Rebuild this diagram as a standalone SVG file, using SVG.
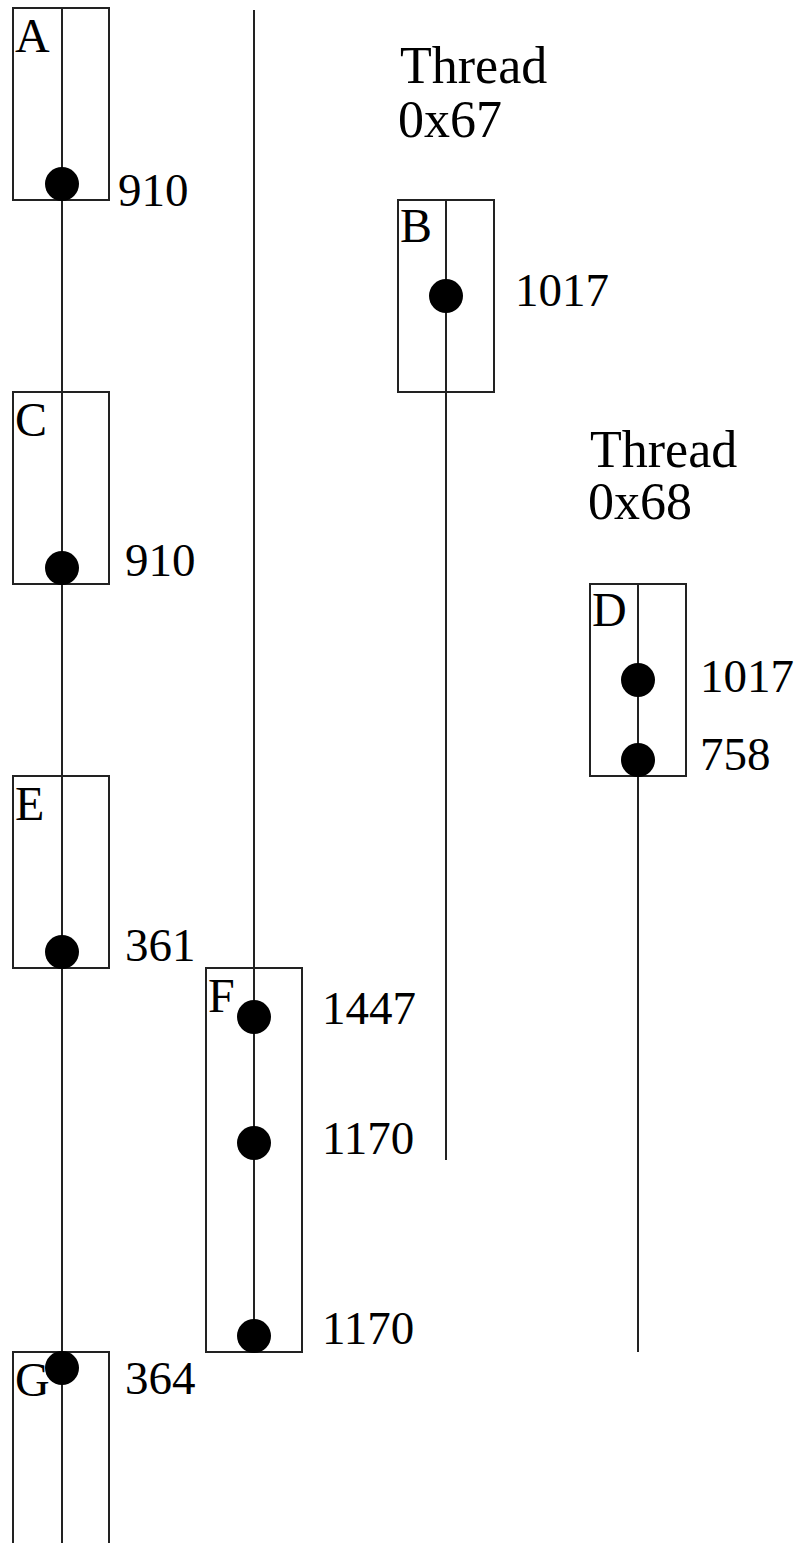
<svg xmlns="http://www.w3.org/2000/svg" width="799" height="1543" viewBox="0 0 799 1543">
<style>
.box{fill:none;stroke:#222;stroke-width:2}
.ln{stroke:#222;stroke-width:2;fill:none}
.dot{fill:#000}
.lbl{font-family:"Liberation Serif",serif;font-size:48px;fill:#000}
.num{font-family:"Liberation Serif",serif;font-size:47px;fill:#000}
.thr{font-family:"Liberation Serif",serif;font-size:52px;fill:#000}
</style>
<rect width="799" height="1543" fill="#fff"/>
<g id="connectors">
<line class="ln" x1="62" y1="8" x2="62" y2="1543"/>
<line class="ln" x1="254" y1="10" x2="254" y2="1352"/>
<line class="ln" x1="446" y1="200" x2="446" y2="1160"/>
<line class="ln" x1="638" y1="584" x2="638" y2="1352"/>
</g>
<g id="thread67">
<text class="thr" x="400" y="83">Thread</text>
<text class="thr" x="398" y="137">0x67</text>
</g>
<g id="thread68">
<text class="thr" x="590" y="467">Thread</text>
<text class="thr" x="588" y="519">0x68</text>
</g>
<g id="A">
<rect class="box" x="13" y="8" width="96" height="192"/>
<text class="lbl" x="15" y="52">A</text>
<circle class="dot" cx="62" cy="184" r="17"/>
<text class="num" x="118" y="206">910</text>
</g>
<g id="B">
<rect class="box" x="398" y="200" width="96" height="192"/>
<text class="lbl" x="400" y="242">B</text>
<circle class="dot" cx="446" cy="296" r="17"/>
<text class="num" x="515" y="306">1017</text>
</g>
<g id="C">
<rect class="box" x="13" y="392" width="96" height="192"/>
<text class="lbl" x="15" y="436">C</text>
<circle class="dot" cx="62" cy="568" r="17"/>
<text class="num" x="125" y="576">910</text>
</g>
<g id="D">
<rect class="box" x="590" y="584" width="96" height="192"/>
<text class="lbl" x="592" y="626">D</text>
<circle class="dot" cx="638" cy="680" r="17"/>
<circle class="dot" cx="638" cy="760" r="17"/>
<text class="num" x="700" y="692">1017</text>
<text class="num" x="700" y="770">758</text>
</g>
<g id="E">
<rect class="box" x="13" y="776" width="96" height="192"/>
<text class="lbl" x="15" y="820">E</text>
<circle class="dot" cx="62" cy="952" r="17"/>
<text class="num" x="125" y="961">361</text>
</g>
<g id="F">
<rect class="box" x="206" y="968" width="96" height="384"/>
<text class="lbl" x="208" y="1012">F</text>
<circle class="dot" cx="254" cy="1017" r="17"/>
<circle class="dot" cx="254" cy="1143" r="17"/>
<circle class="dot" cx="254" cy="1336" r="17"/>
<text class="num" x="322" y="1024">1447</text>
<text class="num" x="322" y="1154">1170</text>
<text class="num" x="322" y="1344">1170</text>
</g>
<g id="G">
<rect class="box" x="13" y="1352" width="96" height="200"/>
<text class="lbl" x="15" y="1396">G</text>
<circle class="dot" cx="62" cy="1368" r="17"/>
<text class="num" x="125" y="1394">364</text>
</g>
</svg>
